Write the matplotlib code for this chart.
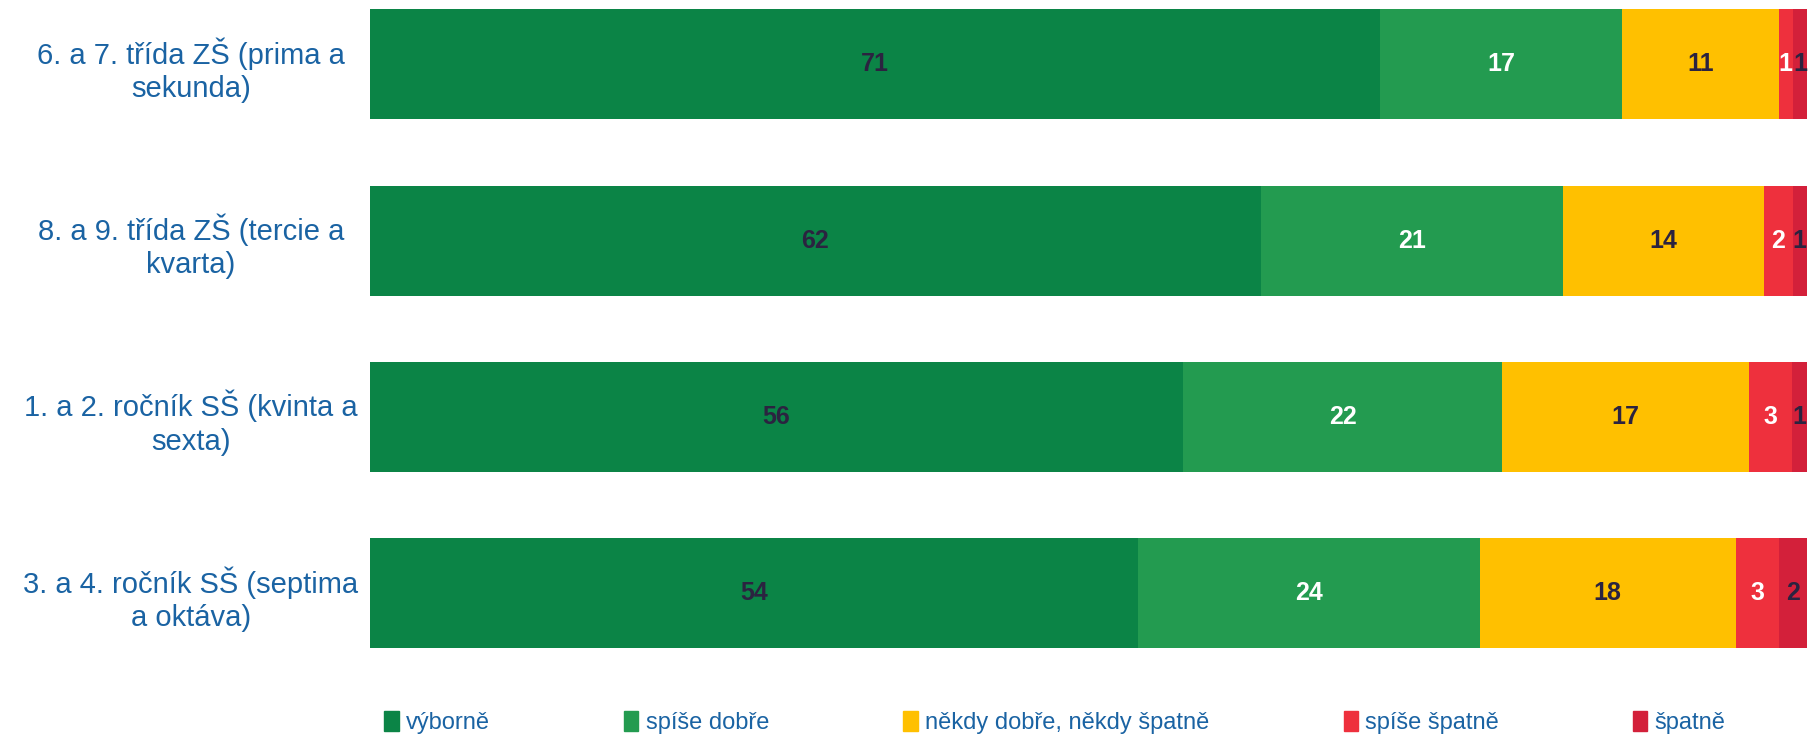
import numpy as np
import matplotlib.pyplot as plt
from matplotlib.patches import Patch

plt.rcParams['font.family'] = ['Liberation Sans', 'DejaVu Sans']

categories = ["6. a 7. třída ZŠ (prima a\nsekunda)",
              "8. a 9. třída ZŠ (tercie a\nkvarta)",
              "1. a 2. ročník SŠ (kvinta a\nsexta)",
              "3. a 4. ročník SŠ (septima\na oktáva)"]
series = ["výborně", "spíše dobře", "někdy dobře, někdy špatně", "spíše špatně", "špatně"]
vyborne = [71, 62, 56, 54]
spise_dobre = [17, 21, 22, 24]
nekdy = [11, 14, 17, 18]
spise_spatne = [1, 2, 3, 3]
spatne = [1, 1, 1, 2]

colors = ["#0B8446", "#239B50", "#FFC000", "#EE303D", "#D3203A"]
text_colors = ["#2B2340", "white", "#2B2340", "white", "#2B2340"]
label_blue = "#1A63A3"

data = np.array([vyborne, spise_dobre, nekdy, spise_spatne, spatne], dtype=float)
pct = data / data.sum(axis=0) * 100

W, H = 1819, 735
fig = plt.figure(figsize=(W / 100, H / 100), dpi=100)
ax = fig.add_axes([370 / W, 1 - 681.5 / H, (1807 - 370) / W, 681.5 / H])

y = np.arange(len(categories))
left = np.zeros(len(categories))
for i in range(len(series)):
    ax.barh(y, pct[i], left=left, height=0.625, color=colors[i], label=series[i])
    for j in range(len(categories)):
        ax.text(left[j] + pct[i, j] / 2, y[j], f"{int(data[i, j])}", ha='center', va='center',
                fontsize=18, fontweight='bold', color=text_colors[i])
    left += pct[i]

ax.set_xlim(0, 100)
ax.set_ylim(3.5, -0.365)
ax.set_yticks(y)
ax.set_yticklabels(categories, fontsize=21, color=label_blue, ha='center', linespacing=1.25)
ax.tick_params(axis='y', length=0, pad=129)
ax.set_xticks([])
for s in ax.spines.values():
    s.set_visible(False)

handles = [Patch(color=c) for c in colors]
leg = fig.legend(handles, series, loc='center left', bbox_to_anchor=(375 / W, 1 - 722.5 / H),
                 ncol=5, frameon=False, fontsize=17, handlelength=0.6, handleheight=0.9,
                 handletextpad=0.3, columnspacing=5.7, borderaxespad=0)
for t in leg.get_texts():
    t.set_color(label_blue)

fig.savefig("out.png", dpi=100)
